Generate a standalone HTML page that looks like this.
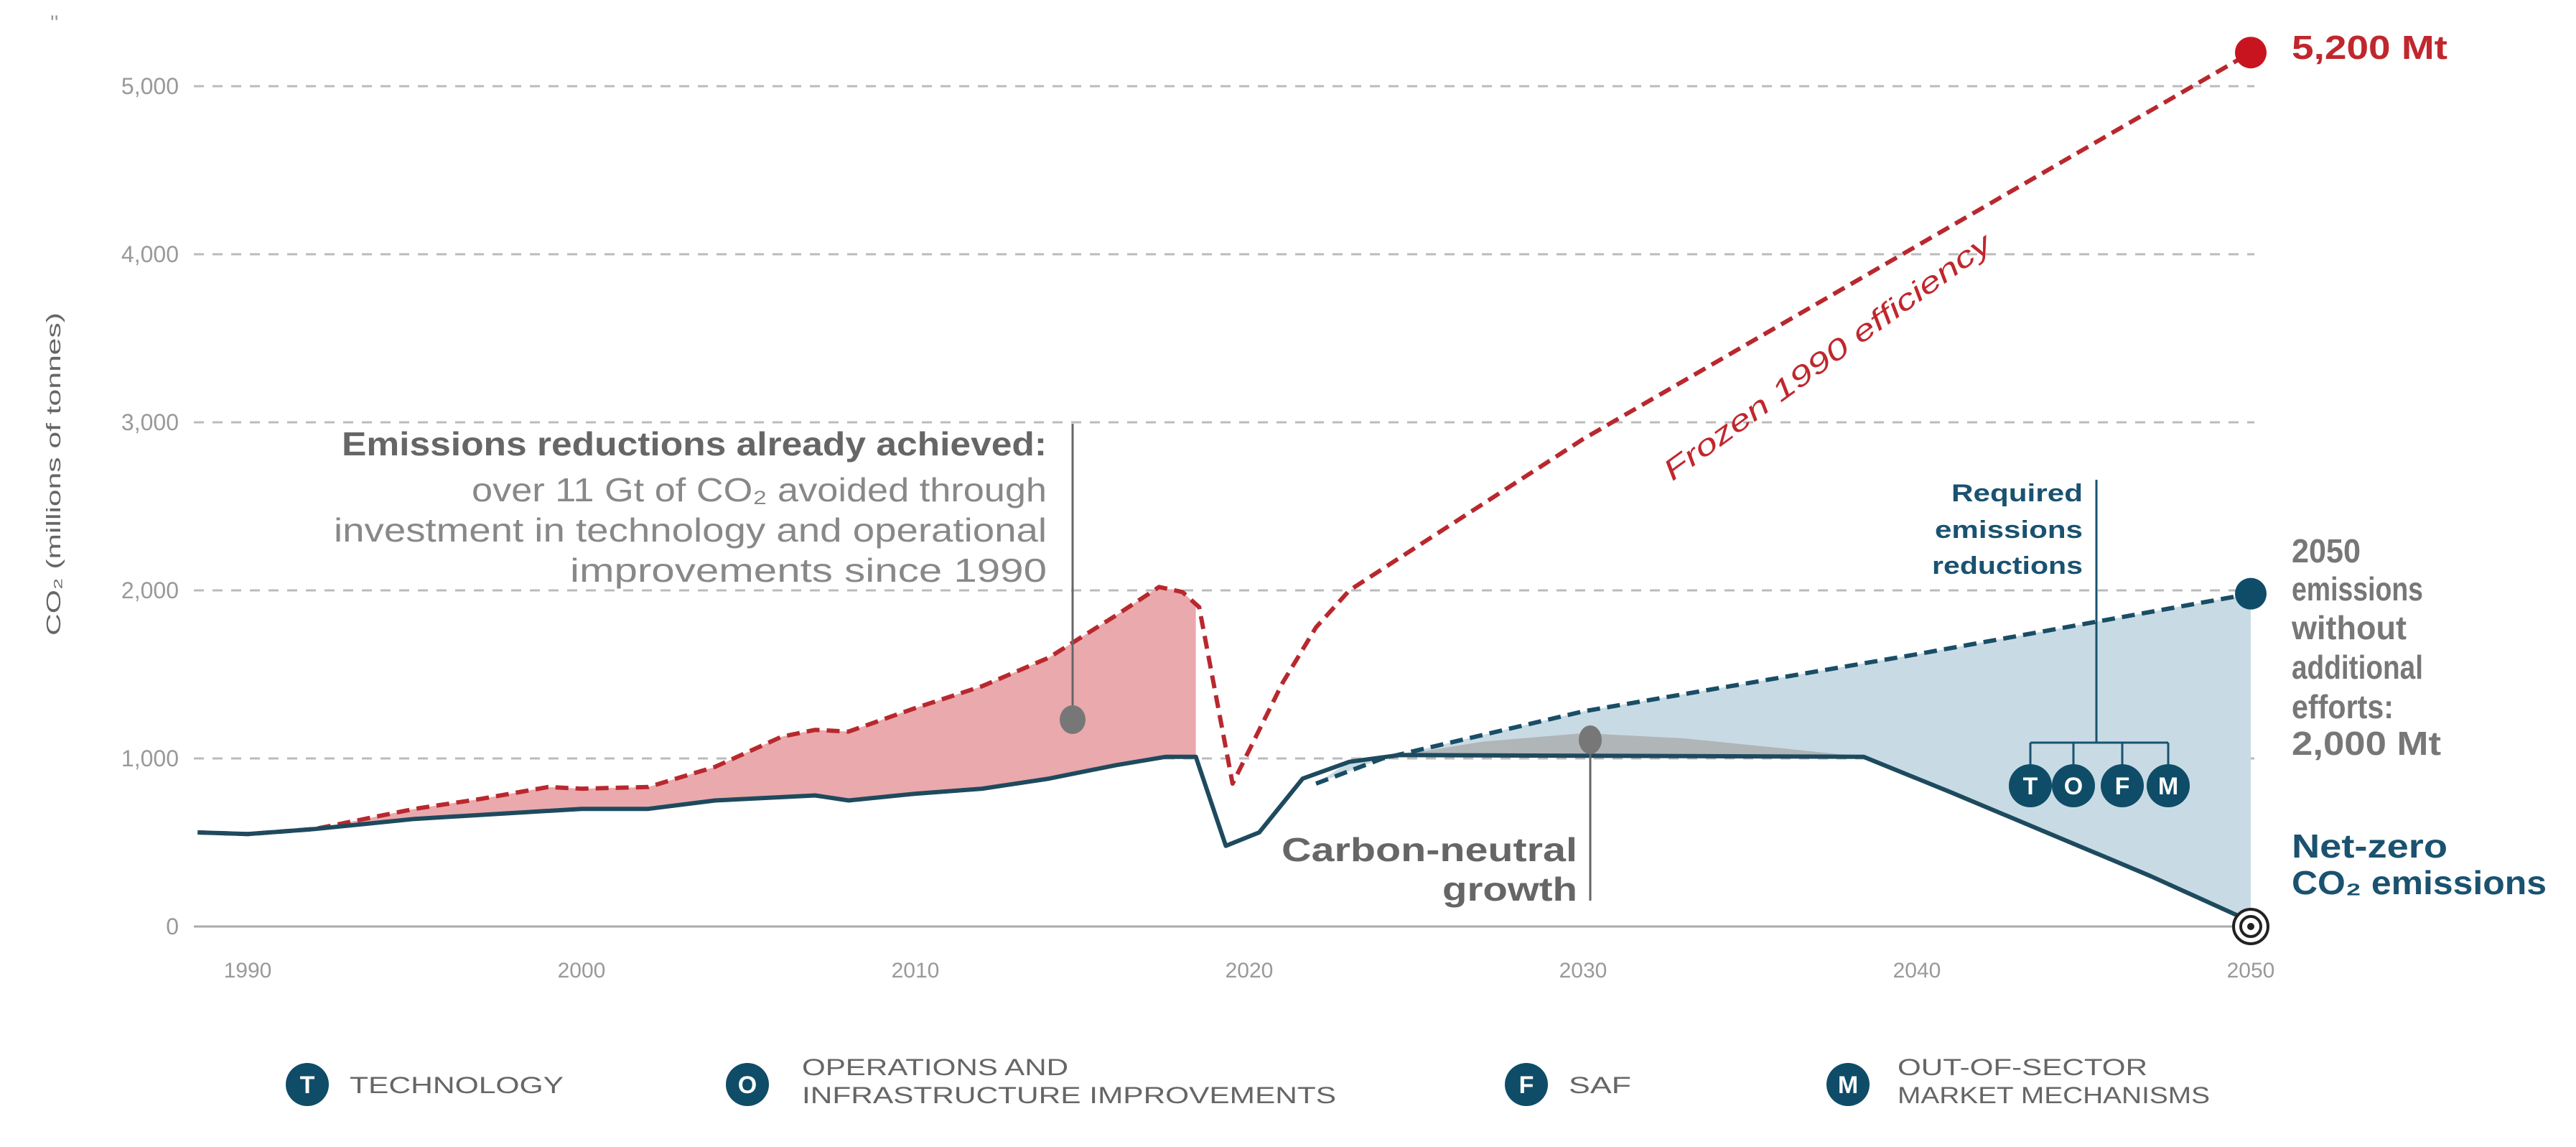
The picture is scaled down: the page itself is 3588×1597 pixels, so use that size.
<!DOCTYPE html>
<html><head><meta charset="utf-8"><style>
html,body{margin:0;padding:0;background:#fff;}
svg{display:block;font-family:"Liberation Sans Narrow","Liberation Sans",sans-serif;}
</style></head><body>
<svg id="chart" width="3588" height="1597" viewBox="0 0 3588 1597" xmlns="http://www.w3.org/2000/svg">
<text x="70" y="42" font-size="30" fill="#999">''</text>
<g id="grid"></g>
<g id="areas"></g>
<g id="lines"></g>
<g id="xlabels"></g>
<text transform="translate(84,660) rotate(-90)" text-anchor="middle" font-size="28" fill="#666" textLength="450" lengthAdjust="spacingAndGlyphs">CO₂ (millions of tonnes)</text>

<g fill="#6b6b6b" text-anchor="end" font-size="46">
<text x="1458" y="634" font-weight="bold" fill="#666" textLength="982" lengthAdjust="spacingAndGlyphs">Emissions reductions already achieved:</text>
<text x="1458" y="698" fill="#888" textLength="801" lengthAdjust="spacingAndGlyphs">over 11 Gt of CO₂ avoided through</text>
<text x="1458" y="754" fill="#888" textLength="993" lengthAdjust="spacingAndGlyphs">investment in technology and operational</text>
<text x="1458" y="810" fill="#888" textLength="664" lengthAdjust="spacingAndGlyphs">improvements since 1990</text>
</g>
<line x1="1494" y1="590" x2="1494" y2="1000" stroke="#666" stroke-width="3"/>
<ellipse cx="1494" cy="1002" rx="18" ry="20" fill="#777"/>

<text transform="translate(2553,508) rotate(-36)" text-anchor="middle" font-size="40" fill="#c0272d" font-style="italic" textLength="553" lengthAdjust="spacingAndGlyphs">Frozen 1990 efficiency</text>
<text x="3192" y="82" font-size="46" font-weight="bold" fill="#c0272d" textLength="217" lengthAdjust="spacingAndGlyphs">5,200 Mt</text>

<g fill="#1a5270" font-weight="bold" font-size="34" text-anchor="end">
<text x="2901" y="698" textLength="183" lengthAdjust="spacingAndGlyphs">Required</text>
<text x="2901" y="749" textLength="206" lengthAdjust="spacingAndGlyphs">emissions</text>
<text x="2901" y="799" textLength="210" lengthAdjust="spacingAndGlyphs">reductions</text>
</g>
<g stroke="#1a5270" stroke-width="3" fill="none">
<line x1="2920" y1="668" x2="2920" y2="1034"/>
<line x1="2828" y1="1034" x2="3020" y2="1034"/>
<line x1="2828" y1="1034" x2="2828" y2="1064"/><line x1="2888" y1="1034" x2="2888" y2="1064"/>
<line x1="2956" y1="1034" x2="2956" y2="1064"/><line x1="3020" y1="1034" x2="3020" y2="1064"/>
</g>
<g font-weight="bold" font-size="34" text-anchor="middle">
<circle cx="2828" cy="1094" r="30" fill="#0f4c68"/><text x="2828" y="1106" fill="#fff">T</text>
<circle cx="2888" cy="1094" r="30" fill="#0f4c68"/><text x="2888" y="1106" fill="#fff">O</text>
<circle cx="2956" cy="1094" r="30" fill="#0f4c68"/><text x="2956" y="1106" fill="#fff">F</text>
<circle cx="3020" cy="1094" r="30" fill="#0f4c68"/><text x="3020" y="1106" fill="#fff">M</text>
</g>

<g fill="#777" font-weight="bold" font-size="46">
<text x="3192" y="783" textLength="96" lengthAdjust="spacingAndGlyphs">2050</text>
<text x="3192" y="836" textLength="183" lengthAdjust="spacingAndGlyphs">emissions</text>
<text x="3192" y="890" textLength="160" lengthAdjust="spacingAndGlyphs">without</text>
<text x="3192" y="945" textLength="183" lengthAdjust="spacingAndGlyphs">additional</text>
<text x="3192" y="1000" textLength="142" lengthAdjust="spacingAndGlyphs">efforts:</text>
<text x="3192" y="1051" textLength="208" lengthAdjust="spacingAndGlyphs">2,000 Mt</text>
</g>
<g fill="#1a5270" font-weight="bold" font-size="46">
<text x="3192" y="1194" textLength="217" lengthAdjust="spacingAndGlyphs">Net-zero</text>
<text x="3192" y="1245" textLength="355" lengthAdjust="spacingAndGlyphs">CO₂ emissions</text>
</g>

<g fill="#666" font-weight="bold" font-size="46" text-anchor="end">
<text x="2197" y="1199" textLength="412" lengthAdjust="spacingAndGlyphs">Carbon-neutral</text>
<text x="2197" y="1254" textLength="188" lengthAdjust="spacingAndGlyphs">growth</text>
</g>
<line x1="2215" y1="1030" x2="2215" y2="1254" stroke="#666" stroke-width="3"/>
<ellipse cx="2215" cy="1030" rx="16" ry="20" fill="#777"/>

<g font-size="32" fill="#666">
<g><circle cx="428" cy="1510" r="30" fill="#0f4c68"/><text x="428" y="1522" text-anchor="middle" fill="#fff" font-weight="bold" font-size="34">T</text><text x="487" y="1522" textLength="298" lengthAdjust="spacingAndGlyphs">TECHNOLOGY</text></g>
<g><circle cx="1041" cy="1510" r="30" fill="#0f4c68"/><text x="1041" y="1522" text-anchor="middle" fill="#fff" font-weight="bold" font-size="34">O</text><text x="1117" y="1497" textLength="371" lengthAdjust="spacingAndGlyphs">OPERATIONS AND</text><text x="1117" y="1536" textLength="744" lengthAdjust="spacingAndGlyphs">INFRASTRUCTURE IMPROVEMENTS</text></g>
<g><circle cx="2126" cy="1510" r="30" fill="#0f4c68"/><text x="2126" y="1522" text-anchor="middle" fill="#fff" font-weight="bold" font-size="34">F</text><text x="2185" y="1522" textLength="87" lengthAdjust="spacingAndGlyphs">SAF</text></g>
<g><circle cx="2574" cy="1510" r="30" fill="#0f4c68"/><text x="2574" y="1522" text-anchor="middle" fill="#fff" font-weight="bold" font-size="34">M</text><text x="2643" y="1497" textLength="348" lengthAdjust="spacingAndGlyphs">OUT-OF-SECTOR</text><text x="2643" y="1536" textLength="435" lengthAdjust="spacingAndGlyphs">MARKET MECHANISMS</text></g>
</g>
<g id="markers"></g>
</svg>
<script>
const yTicks = [0, 1000, 2000, 3000, 4000, 5000];
const yTickLabels = ["0", "1,000", "2,000", "3,000", "4,000", "5,000"];
const xTicks = [1990, 2000, 2010, 2020, 2030, 2040, 2050];
const actualYears = [1988.5,1990,1992,1995,2000,2002,2004,2007,2008,2010,2012,2014,2016,2017.5,2018.4,2019.3,2020.3,2021.6,2023,2024.5,2038.4,2041,2044,2047,2050];
const actualValues = [560,550,580,640,700,700,750,780,750,790,820,880,960,1010,1010,480,560,880,980,1020,1010,800,550,300,30];
const frozenYears = [1988.5,1990,1992,1995,1997,1999,2000,2002,2004,2006,2007,2008,2010,2012,2014,2016,2017.3,2018,2018.5,2019.5,2021,2022,2023,2030,2040,2050];
const frozenValues = [560,550,580,700,760,830,820,830,950,1130,1170,1160,1300,1430,1600,1850,2020,1990,1900,850,1450,1780,2000,2900,4050,5200];
const bauYears = [2022,2024,2030,2040,2050];
const bauValues = [850,1000,1280,1620,1980];
const neutralYears = [2024.5,2027,2030,2033,2036,2038.4];
const neutralValues = [1020,1100,1150,1120,1060,1010];

const X0 = 345, PXYR = 46.5, Y0 = 1290, PXV = 0.234;
const sx = yr => X0 + (yr - 1990) * PXYR;
const sy = v => Y0 - v * PXV;
const NS = "http://www.w3.org/2000/svg";
function mk(tag, attrs, parent){const e=document.createElementNS(NS,tag);for(const k in attrs)e.setAttribute(k,attrs[k]);parent.appendChild(e);return e;}
const pts = (ys, vs) => ys.map((y,i)=>sx(y).toFixed(1)+","+sy(vs[i]).toFixed(1));
function interp(ys, vs, yr){for(let i=0;i<ys.length-1;i++){if(yr>=ys[i]&&yr<=ys[i+1]){const t=(yr-ys[i])/(ys[i+1]-ys[i]);return vs[i]+t*(vs[i+1]-vs[i]);}}return vs[vs.length-1];}

const grid = document.getElementById('grid');
yTicks.forEach((t,i)=>{
  const l = mk('line',{x1:270,x2:3140,y1:sy(t),y2:sy(t),stroke:i===0?'#aaa':'#bbb','stroke-width':3,'stroke-dasharray':i===0?'none':'14 12'},grid);
  
  
  const tx = mk('text',{x:249,y:sy(t)+11,'text-anchor':'end','font-size':32,fill:'#999'},grid);
  tx.textContent = yTickLabels[i];
  
  
});
const xl = document.getElementById('xlabels');
xTicks.forEach(t=>{
  const tx = mk('text',{x:sx(t),y:1361,'text-anchor':'middle','font-size':30,fill:'#999'},xl);
  tx.textContent = t;
  
  
});

const areas = document.getElementById('areas');
// red area between frozen and actual up to 2018.4
const redTop = frozenYears.filter(y=>y<=2018.4);
const redTopV = redTop.map(y=>interp(frozenYears,frozenValues,y));
const redBot = actualYears.filter(y=>y<=2018.4).slice().reverse();
const redBotV = redBot.map(y=>interp(actualYears,actualValues,y));
const ra = mk('polygon',{points:pts(redTop.concat([2018.4]),redTopV.concat([interp(frozenYears,frozenValues,2018.4)])).concat(pts(redBot,redBotV)).join(' '),fill:'#eaa9ac'},areas);


// blue area between bau and actual
const bBot = actualYears.filter(y=>y>=2022).slice().reverse();
const ba = mk('polygon',{points:pts(bauYears,bauValues).concat(pts(bBot,bBot.map(y=>interp(actualYears,actualValues,y)))).join(' '),fill:'#c8dbe4'},areas);


const na = mk('polygon',{points:pts(neutralYears,neutralValues).concat(pts([2038.4,2024.5],[1010,1020])).join(' '),fill:'#a8a8a8','fill-opacity':0.75},areas);



const lines = document.getElementById('lines');
const fl = mk('polyline',{points:pts(frozenYears,frozenValues).join(' '),fill:'none',stroke:'#b8282e','stroke-width':6,'stroke-dasharray':'18 10','stroke-linejoin':'round'},lines);


const bl = mk('polyline',{points:pts(bauYears,bauValues).join(' '),fill:'none',stroke:'#1a4d66','stroke-width':6,'stroke-dasharray':'18 10'},lines);


const al = mk('polyline',{points:pts(actualYears,actualValues).join(' '),fill:'none',stroke:'#1e4a5e','stroke-width':6,'stroke-linejoin':'round'},lines);



const mkr = document.getElementById('markers');
const rd = mk('circle',{cx:sx(2050),cy:sy(frozenValues[frozenValues.length-1]),r:22,fill:'#c8141e'},mkr);


const bd = mk('circle',{cx:sx(2050),cy:sy(bauValues[bauValues.length-1]),r:22,fill:'#0f4c68'},mkr);


const tg = mk('g',{},mkr);


const cx = sx(2050), cy = sy(0);
mk('circle',{cx:cx,cy:cy,r:24,fill:'#fff',stroke:'#222','stroke-width':4},tg);
mk('circle',{cx:cx,cy:cy,r:14,fill:'#fff',stroke:'#222','stroke-width':4},tg);
mk('circle',{cx:cx,cy:cy,r:5,fill:'#222'},tg);
</script>
</body></html>
